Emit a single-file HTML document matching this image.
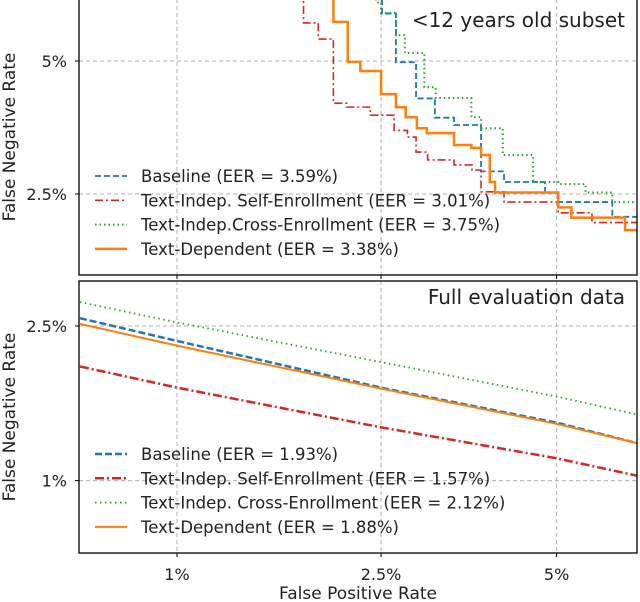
<!DOCTYPE html>
<html><head><meta charset="utf-8"><style>
body{margin:0;background:#fff}
svg{display:block;font-family:"DejaVu Sans","Liberation Sans",sans-serif}
</style></head><body>
<svg id="chart" width="640" height="602" viewBox="0 0 640 602" xmlns="http://www.w3.org/2000/svg"></svg>
<script>
// Top panel (<12 years old subset), step DET curves: FPR % and FNR %
const topBaseFPR = [2.51,2.66,2.89,3.12,3.37,3.75,4.10,4.79,5.03,6.12,6.74];
const topBaseFNR = [6.27,4.97,4.15,3.76,3.62,2.83,2.67,2.52,2.39,2.20,2.10];
const topSelfFPR = [1.79,1.91,2.04,2.16,2.39,2.64,2.79,2.89,3.03,3.37,3.62,3.75,4.10,5.03,5.69,6.74];
const topSelfFNR = [6.00,5.56,4.05,3.97,3.81,3.52,3.40,3.14,3.01,2.93,2.85,2.53,2.39,2.25,2.13,1.98];
const topCrossFPR = [2.45,2.50,2.66,2.76,2.99,3.13,3.61,3.75,4.08,4.58,5.03,5.56,6.12,6.74];
const topCrossFNR = [6.60,6.29,5.67,5.20,4.39,4.16,3.77,3.56,3.09,2.67,2.64,2.52,2.39,2.25];
const topTDFPR = [2.04,2.17,2.29,2.50,2.66,2.77,2.90,3.02,3.37,3.61,3.75,3.88,3.96,5.03,5.28,6.40,6.74];
const topTDFNR = [6.03,4.98,4.76,4.24,3.97,3.77,3.56,3.47,3.26,3.21,3.09,2.67,2.52,2.32,2.19,2.04,1.95];
// Bottom panel (full evaluation data)
const botFPR = [0.62,1,2.5,5,6.7];
const botBaseFNR = [2.61,2.30,1.76,1.43,1.26];
const botSelfFNR = [1.99,1.76,1.39,1.15,1.03];
const botCrossFNR = [2.85,2.55,2.04,1.67,1.50];
const botTDFNR = [2.53,2.24,1.75,1.42,1.26];
const xTicks = [1,2.5,5];
const xTickLabels = ["1%","2.5%","5%"];
const topYTicks = [5,2.5];
const topYTickLabels = ["5%","2.5%"];
const botYTicks = [2.5,1];
const botYTickLabels = ["2.5%","1%"];
const topLegend = ["Baseline (EER = 3.59%)","Text-Indep. Self-Enrollment (EER = 3.01%)","Text-Indep.Cross-Enrollment (EER = 3.75%)","Text-Dependent (EER = 3.38%)"];
const botLegend = ["Baseline (EER = 1.93%)","Text-Indep. Self-Enrollment (EER = 1.57%)","Text-Indep. Cross-Enrollment (EER = 2.12%)","Text-Dependent (EER = 1.88%)"];

function probit(p){
  const a=[-39.69683028665376,220.9460984245205,-275.9285104469687,138.357751867269,-30.66479806614716,2.506628277459239];
  const b=[-54.47609879822406,161.5858368580409,-155.6989798598866,66.80131188771972,-13.28068155288572];
  const c=[-0.007784894002430293,-0.3223964580411365,-2.400758277161838,-2.549732539343734,4.374664141464968,2.938163982698783];
  const d=[0.007784695709041462,0.3224671290700398,2.445134137142996,3.754408661907416];
  if(p<0.02425){const q=Math.sqrt(-2*Math.log(p));return (((((c[0]*q+c[1])*q+c[2])*q+c[3])*q+c[4])*q+c[5])/((((d[0]*q+d[1])*q+d[2])*q+d[3])*q+1);}
  if(p>1-0.02425){return -probit(1-p);}
  const q=p-0.5,r=q*q;
  return (((((a[0]*r+a[1])*r+a[2])*r+a[3])*r+a[4])*r+a[5])*q/(((((b[0]*r+b[1])*r+b[2])*r+b[3])*r+b[4])*r+1);
}
const X0=79,X1=637;
const xS = v => 177 + (probit(v/100)-probit(0.01))*557;
const yTop = v => 61 - (probit(v/100)-probit(0.05))*422;
const yBot = v => 326 - (probit(v/100)-probit(0.025))*422;
const P={top:{y0:-1,y1:275,ys:yTop},bot:{y0:281,y1:553,ys:yBot}};

const svg=document.getElementById('chart');
const NS='http://www.w3.org/2000/svg';
function el(tag,attrs,parent){const e=document.createElementNS(NS,tag);for(const k in attrs)e.setAttribute(k,attrs[k]);(parent||svg).appendChild(e);return e;}

const defs=el('defs',{});
['top','bot'].forEach(k=>{const cp=el('clipPath',{id:'clip-'+k},defs);el('rect',{x:X0,y:Math.max(P[k].y0,0),width:X1-X0,height:P[k].y1-Math.max(P[k].y0,0)},cp);});

const C={blue:'#1f77b4',red:'#d62728',green:'#2ca02c',orange:'#ff7f0e'};
const grid={stroke:'#b0b0b0','stroke-width':1,'stroke-dasharray':'4,3'};

function panel(k,yTicks,yLabels){
  const p=P[k];
  const g=el('g',{});
  
  
  xTicks.forEach((t,i)=>{
    const x=xS(t);
    const l=el('line',Object.assign({x1:x,x2:x,y1:p.y0,y2:p.y1},grid),g);
    
    
    el('line',{x1:x,x2:x,y1:p.y1,y2:p.y1+4,stroke:'#000','stroke-width':1},g);
  });
  yTicks.forEach((t,i)=>{
    const y=p.ys(t);
    const l=el('line',Object.assign({x1:X0,x2:X1,y1:y,y2:y},grid),g);
    
    
    el('line',{x1:X0-4,x2:X0,y1:y,y2:y,stroke:'#000','stroke-width':1},g);
    const tx=el('text',{x:X0-12,y:y+6,'text-anchor':'end','font-size':16,fill:'#222'},g);
    tx.textContent=yLabels[i];
    
    
  });
  return g;
}
panel('top',topYTicks,topYTickLabels);
panel('bot',botYTicks,botYTickLabels);

function stepPath(fpr,fnr,ys){
  let d='M'+xS(fpr[0])+',-10';
  for(let i=0;i<fpr.length;i++){
    d+=' V'+ys(fnr[i]);
    const nx=i+1<fpr.length?xS(fpr[i+1]):650;
    d+=' H'+nx;
  }
  return d;
}
function linePath(fpr,fnr,ys){return fpr.map((v,i)=>(i?'L':'M')+xS(v)+','+ys(fnr[i])).join(' ');}

const styles=[
 {c:C.blue,dash:'6,3',n:'baseline'},
 {c:C.red,dash:'8,3,2,3',n:'self-enrollment'},
 {c:C.green,dash:'1.5,3',n:'cross-enrollment'},
 {c:C.orange,dash:'',n:'text-dependent'}
];
const topData=[[topBaseFPR,topBaseFNR],[topSelfFPR,topSelfFNR],[topCrossFPR,topCrossFNR],[topTDFPR,topTDFNR]];
const topW=[1.8,1.6,2,2.5];
const gT=el('g',{'clip-path':'url(#clip-top)'});
topData.forEach((d,i)=>{
  const s=styles[i];
  const pth=el('path',{d:stepPath(d[0],d[1],yTop),fill:'none',stroke:s.c,'stroke-width':topW[i],'stroke-dasharray':s.dash},gT);
  
  
});
const botData=[botBaseFNR,botSelfFNR,botCrossFNR,botTDFNR];
const botW=[2.5,2.5,1.8,2];
const botDash=['7,3','9,3,2,3','1.5,3.5',''];
const gB=el('g',{'clip-path':'url(#clip-bot)'});
botData.forEach((d,i)=>{
  const s=styles[i];
  const pth=el('path',{d:linePath(botFPR,d,yBot),fill:'none',stroke:s.c,'stroke-width':botW[i],'stroke-dasharray':botDash[i]},gB);
  
  
});

['top','bot'].forEach(k=>{
  const r=el('rect',{x:X0,y:P[k].y0,width:X1-X0,height:P[k].y1-P[k].y0,fill:'none',stroke:'#000','stroke-width':1.3});
  
  
});

function legend(k,labels,y0,ws,dashes){
  const g=el('g',{});
  
  
  labels.forEach((t,i)=>{
    const y=y0+i*24.3;
    el('line',{x1:95,x2:127,y1:y,y2:y,stroke:styles[i].c,'stroke-width':ws[i],'stroke-dasharray':dashes[i]},g);
    const tx=el('text',{x:141,y:y+6,'font-size':16.5,fill:'#222'},g);
    tx.textContent=t;
    
    
  });
}
legend('top',topLegend,176,topW,styles.map(s=>s.dash));
legend('bot',botLegend,454,botW,botDash);

function text(x,y,s,size,anchor,name,rot){
  const t=el('text',{x:x,y:y,'font-size':size,'text-anchor':anchor,fill:'#222'});
  if(rot)t.setAttribute('transform','rotate(-90 '+x+' '+y+')');
  t.textContent=s;
  
  
}
text(625,27,'<12 years old subset',20,'end','top-panel-title');
text(625,304,'Full evaluation data',20,'end','bottom-panel-title');
text(15,137,'False Negative Rate',17,'middle','top-y-axis-title',true);
text(15,417,'False Negative Rate',17,'middle','bottom-y-axis-title',true);
xTicks.forEach((t,i)=>text(xS(t),580,xTickLabels[i],16,'middle','x-tick-label'));
text(358,599,'False Positive Rate',17,'middle','x-axis-title');
</script>
</body></html>
